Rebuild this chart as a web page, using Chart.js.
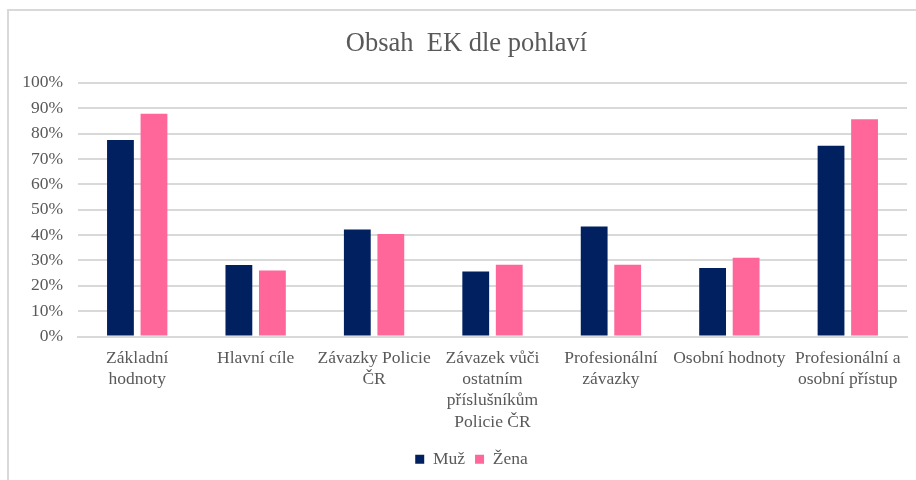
<!DOCTYPE html>
<html>
<head>
<meta charset="utf-8">
<script src="https://cdn.jsdelivr.net/npm/chart.js@4/dist/chart.umd.min.js"></script>
<style>
  html, body { margin: 0; padding: 0; background: #fff; }
  #wrap { width: 916px; height: 480px; position: relative; }
</style>
</head>
<body>
<div id="wrap"><canvas id="chart" width="916" height="480"></canvas></div>
<script>
// categories and values (percent)
const categories = [
    ['Základní', 'hodnoty'],
    'Hlavní cíle',
    ['Závazky Policie', 'ČR'],
    ['Závazek vůči', 'ostatním', 'příslušníkům', 'Policie ČR'],
    ['Profesionální', 'závazky'],
    'Osobní hodnoty',
    ['Profesionální a', 'osobní přístup']
];
const muz = [77.5, 28.2, 42.2, 25.6, 43.4, 27.0, 75.2];
const zena = [87.8, 26.0, 40.4, 28.3, 28.3, 31.0, 85.6];
const yTicks = [0, 10, 20, 30, 40, 50, 60, 70, 80, 90, 100];

const textColor = '#595959';
const gridColor = '#d9d9d9';
const serif = 'Liberation Serif, Times New Roman, serif';

// light frame around the chart, like the Excel chart border
const framePlugin = {
    id: 'frame',
    beforeDraw(chart) {
        const ctx = chart.ctx;
        ctx.save();
        ctx.fillStyle = '#fff';
        ctx.fillRect(0, 0, chart.width, chart.height);
        ctx.strokeStyle = gridColor;
        ctx.lineWidth = 2;
        ctx.strokeRect(8, 10, 1200, 1200);
        ctx.restore();
    }
};

// the original title and legend sit a bit right of the canvas centre
const boxShift = {
    id: 'boxShift',
    afterLayout(chart) {
        chart.legend.left += 18;
        chart.legend.right += 18;
        chart.titleBlock.left += 13;
        chart.titleBlock.right += 13;
    }
};

const ctx = document.getElementById('chart').getContext('2d');
new Chart(ctx, {
    type: 'bar',
    data: {
        labels: categories,
        datasets: [
            { label: 'Muž', data: muz, backgroundColor: '#002060' },
            { label: 'Žena', data: zena, backgroundColor: '#ff6699' }
        ]
    },
    options: {
        responsive: false,
        animation: false,
        categoryPercentage: 0.566,
        barPercentage: 0.8,
        layout: { padding: { left: 0, right: 9, top: 0, bottom: 2 } },
        plugins: {
            title: {
                display: true,
                text: 'Obsah  EK dle pohlaví',
                color: textColor,
                font: { family: serif, size: 26.5, weight: 'normal' },
                padding: { top: 28, bottom: 23 }
            },
            legend: {
                position: 'bottom',
                labels: {
                    color: textColor,
                    font: { family: serif, size: 17.5 },
                    boxWidth: 9,
                    boxHeight: 9,
                    padding: 10
                }
            },
            tooltip: { enabled: false }
        },
        scales: {
            x: {
                grid: { display: false },
                border: { color: gridColor, width: 2 },
                ticks: {
                    color: textColor,
                    font: { family: serif, size: 17.5, lineHeight: 1.22 },
                    maxRotation: 0,
                    autoSkip: false,
                    padding: 3
                },
                afterFit(scale) { scale.height = 104; }
            },
            y: {
                min: 0,
                max: 100,
                afterBuildTicks(scale) { scale.ticks = yTicks.map(v => ({ value: v })); },
                grid: { color: gridColor, lineWidth: 2, drawTicks: false },
                border: { display: false },
                ticks: {
                    color: textColor,
                    font: { family: serif, size: 17.5 },
                    padding: 15,
                    callback: v => v + '%'
                },
                afterFit(scale) { scale.width = 78; }
            }
        }
    },
    plugins: [framePlugin, boxShift]
});
</script>
</body>
</html>
